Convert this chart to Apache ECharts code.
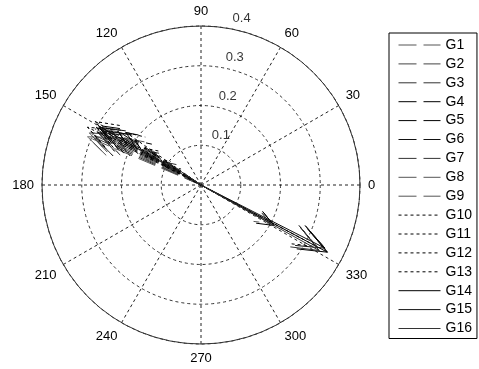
<!DOCTYPE html>
<html>
<head>
<meta charset="utf-8">
<script src="https://cdn.jsdelivr.net/npm/echarts@6/dist/echarts.min.js"></script>
<style>html,body{margin:0;padding:0;background:#fff;}#c{width:479px;height:369px;}</style>
</head>
<body>
<div id="c"></div>
<script>
// Series names
var names = ['G1','G2','G3','G4','G5','G6','G7','G8','G9','G10','G11','G12','G13','G14','G15','G16'];
// Arrow directions (degrees) per series
var angles = [
  [152, 148], [155, 150], [153, 146], [151, 147],
  [150, 146], [149, 147], [156, 152], [154, 331],
  [157, 150], [153, 148], [151, 145], [149, 332],
  [152, 147], [332, 331], [333, 150], [331, 146]
];
// Arrow magnitudes per series
var mags = [
  [0.30, 0.22], [0.31, 0.27], [0.29, 0.15], [0.28, 0.25],
  [0.30, 0.20], [0.26, 0.08], [0.29, 0.24], [0.27, 0.20],
  [0.31, 0.18], [0.32, 0.12], [0.30, 0.23], [0.31, 0.33],
  [0.26, 0.17], [0.36, 0.21], [0.35, 0.29], [0.34, 0.10]
];
// Radial tick labels
var rTicks = [0.1, 0.2, 0.3, 0.4];
var rTickLabels = ['0.1', '0.2', '0.3', '0.4'];

var colors = ['#555','#444','#333','#000','#000','#111','#333','#555','#555','#000','#000','#000','#000','#000','#111','#333'];
var types = [];
for (var i = 0; i < 16; i++) types.push(i < 9 ? [18, 7] : (i < 13 ? [3, 3] : 'solid'));

// MATLAB compass arrowhead: back points at 0.8 along, 0.08 across
var headR = Math.sqrt(0.8 * 0.8 + 0.08 * 0.08);
var headA = Math.atan2(0.08, 0.8) * 180 / Math.PI;

var series = [];
names.forEach(function (n, i) {
  var d = [];
  angles[i].forEach(function (a, k) {
    var r = mags[i][k];
    d.push([0, a], [r, a], [r * headR, a + headA], [r, a], [r * headR, a - headA], '-');
  });
  series.push({
    name: n, type: 'line', coordinateSystem: 'polar', data: d,
    symbol: 'none', connectNulls: false, silent: true,
    lineStyle: { color: colors[i], width: 1, type: types[i] },
    itemStyle: { color: colors[i] }
  });
});

series.push({
  type: 'scatter', coordinateSystem: 'polar', symbolSize: 0, silent: true,
  data: rTicks.map(function (t, k) { return { value: [t, 80], lbl: rTickLabels[k] }; }),
  label: {
    show: true, position: 'inside', offset: [13, -10], color: '#000',
    fontFamily: 'Liberation Sans', fontSize: 13,
    formatter: function (p) { return p.data.lbl; }
  }
});

var chart = echarts.init(document.getElementById('c'), null, { renderer: 'canvas' });
chart.setOption({
  animation: false,
  backgroundColor: '#fff',
  polar: { center: [201, 185], radius: 159 },
  angleAxis: {
    type: 'value', min: 0, max: 360, interval: 30, startAngle: 0, clockwise: false,
    axisLine: { show: true, lineStyle: { color: '#333', width: 1 } },
    axisTick: { show: false },
    axisLabel: {
      show: true, margin: 8, color: '#000', fontFamily: 'Liberation Sans', fontSize: 13,
      formatter: function (v) { return v === 360 ? '' : String(v); }
    },
    splitLine: { show: true, lineStyle: { color: '#222', width: 1, type: [3, 3] } }
  },
  radiusAxis: {
    type: 'value', min: 0, max: 0.4, interval: 0.1,
    axisLine: { show: false }, axisTick: { show: false }, axisLabel: { show: false },
    splitLine: { show: true, lineStyle: { color: '#333', width: 1, type: [3, 3] } }
  },
  legend: {
    data: names, orient: 'vertical', left: 389, top: 33,
    itemWidth: 42, itemHeight: 14, itemGap: 4.9,
    padding: [5, 5, 3, 9], borderColor: '#000', borderWidth: 1, backgroundColor: '#fff',
    itemStyle: { opacity: 0 },
    lineStyle: { width: 1 },
    textStyle: { color: '#000', fontFamily: 'Liberation Sans', fontSize: 14 },
    selectedMode: false
  },
  series: series
});
</script>
</body>
</html>
